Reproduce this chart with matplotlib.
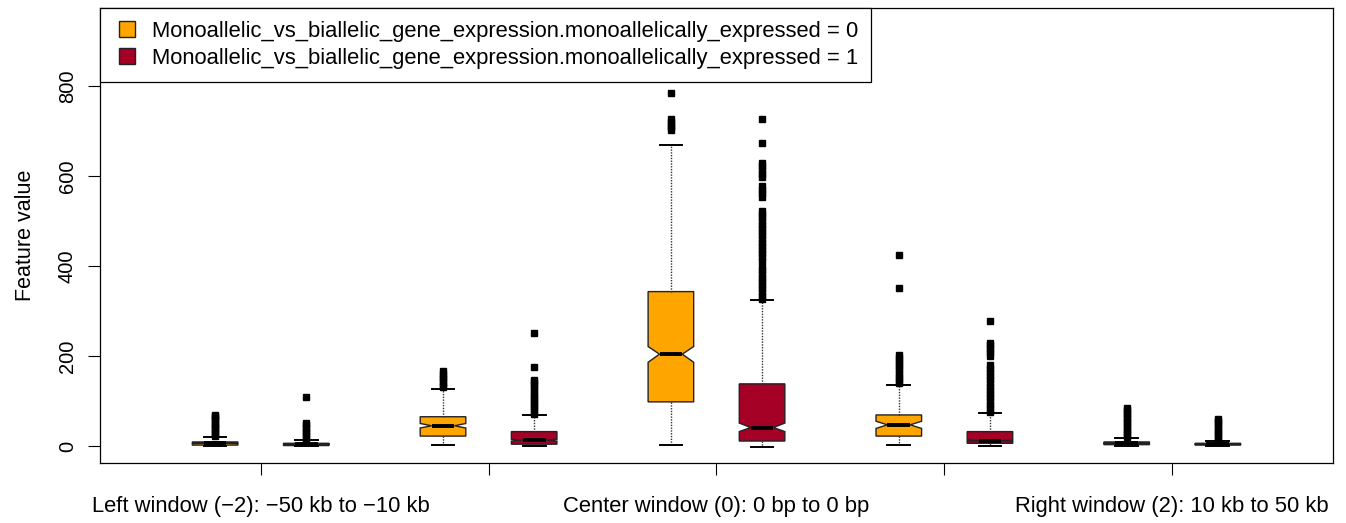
import matplotlib
matplotlib.use("Agg")
import matplotlib.pyplot as plt
from matplotlib.lines import Line2D

plt.rcParams['font.family'] = ['Liberation Sans', 'DejaVu Sans']

# window labels (windows -1 and 1 are not printed in the reference)
windows = ["Left window (\u22122): \u221250 kb to \u221210 kb", "",
           "Center window (0): 0 bp to 0 bp", "",
           "Right window (2): 10 kb to 50 kb"]
group_labels = ["Monoallelic_vs_biallelic_gene_expression.monoallelically_expressed = 0",
                "Monoallelic_vs_biallelic_gene_expression.monoallelically_expressed = 1"]
colors = ["#FFA500", "#A50026"]

# group 0 (orange)
q1_0 = [2, 22, 98, 22, 3]
med_0 = [6, 45, 204, 47, 6]
q3_0 = [9, 65, 343, 69, 9]
whislo_0 = [0, 2, 2, 2, 0]
whishi_0 = [20, 126, 669, 136, 17]
cilo_0 = [5.5, 40, 186, 39, 5.5]
cihi_0 = [6.5, 50, 221, 55, 6.5]
fliers_0 = [
    [22, 27, 32, 37, 42, 47, 52, 57, 62, 66, 69],
    [130, 136, 142, 148, 154, 160, 166],
    [702, 708, 714, 720, 726, 784],
    [140, 147, 154, 161, 168, 175, 182, 189, 196, 202, 350, 424],
    [20, 26, 32, 38, 44, 50, 56, 62, 68, 74, 80, 84],
]

# group 1 (red)
q1_1 = [1, 4, 11, 6, 2]
med_1 = [4, 13, 41, 12, 4]
q3_1 = [6, 32, 138, 32, 6]
whislo_1 = [0, 0, -2, 0, 0]
whishi_1 = [14, 69, 324, 73, 12]
cilo_1 = [3.7, 11, 32, 10.5, 3.7]
cihi_1 = [4.3, 15, 51, 13.5, 4.3]
fliers_1 = [
    [16, 22, 28, 34, 40, 46, 52, 108],
    [72, 79, 86, 93, 100, 107, 114, 121, 128, 135, 142, 147, 176, 250],
    [326, 334, 342, 350, 358, 366, 374, 382, 390, 398, 412, 420, 428, 436,
     444, 452, 460, 468, 476, 484, 492, 500, 508, 516, 521, 553, 561, 569,
     578, 597, 605, 613, 621, 628, 673, 726],
    [76, 84, 92, 100, 108, 116, 124, 132, 140, 148, 156, 164, 172, 180,
     200, 208, 216, 224, 229, 278],
    [14, 20, 26, 32, 38, 44, 50, 56, 59],
]

groups = [
    (q1_0, med_0, q3_0, whislo_0, whishi_0, cilo_0, cihi_0, fliers_0),
    (q1_1, med_1, q3_1, whislo_1, whishi_1, cilo_1, cihi_1, fliers_1),
]

fig = plt.figure(figsize=(13.46, 5.23), dpi=100)
ax = fig.add_axes([0.0743, 0.1147, 0.916, 0.870])

centers = list(range(1, len(windows) + 1))
offsets = [-0.2, 0.2]
for g, (q1, med, q3, wlo, whi, clo, chi, fl) in enumerate(groups):
    stats = []
    for i in range(len(windows)):
        stats.append(dict(q1=q1[i], med=med[i], q3=q3[i], whislo=wlo[i],
                          whishi=whi[i], cilo=clo[i], cihi=chi[i],
                          fliers=fl[i], mean=med[i]))
    ax.bxp(stats, positions=[c + offsets[g] for c in centers], widths=0.2,
           shownotches=True, patch_artist=True, manage_ticks=False,
           boxprops=dict(facecolor=colors[g], edgecolor="#222222", linewidth=1),
           medianprops=dict(color="black", linewidth=2.8, solid_capstyle="butt"),
           whiskerprops=dict(color="#333333", linewidth=1, linestyle=(0, (1, 1))),
           capprops=dict(color="black", linewidth=1.4),
           flierprops=dict(marker="s", markersize=5, markerfacecolor="black",
                           markeredgecolor="black"))

ax.set_xlim(0.295, 5.705)
ax.set_ylim(-37.8, 973)
ax.set_xticks(centers)
ax.set_xticklabels(windows, fontsize=15.8)
ax.set_yticks([0, 200, 400, 600, 800])
ax.set_yticklabels(["0", "200", "400", "600", "800"], rotation=90,
                   va="center", fontsize=14.5)
ax.tick_params(axis="x", length=8.6, pad=15, width=0.8)
ax.tick_params(axis="y", length=8.6, pad=8, width=0.8)
ax.set_ylabel("Feature value", fontsize=15.5, labelpad=16)
for s in ax.spines.values():
    s.set_linewidth(0.9)

handles = [Line2D([], [], linestyle="none", marker="s", markersize=11,
                  markerfacecolor=colors[k], markeredgecolor="#222222",
                  markeredgewidth=1, label=group_labels[k])
           for k in range(2)]
leg = ax.legend(handles=handles, loc="upper left", bbox_to_anchor=(0, 1),
                borderaxespad=0, fancybox=False, framealpha=1, edgecolor="black",
                fontsize=15.8, handlelength=1.25, handletextpad=0.5,
                borderpad=0.6, labelspacing=0.25)
leg.get_frame().set_linewidth(0.9)

fig.savefig("out.png", dpi=100)
